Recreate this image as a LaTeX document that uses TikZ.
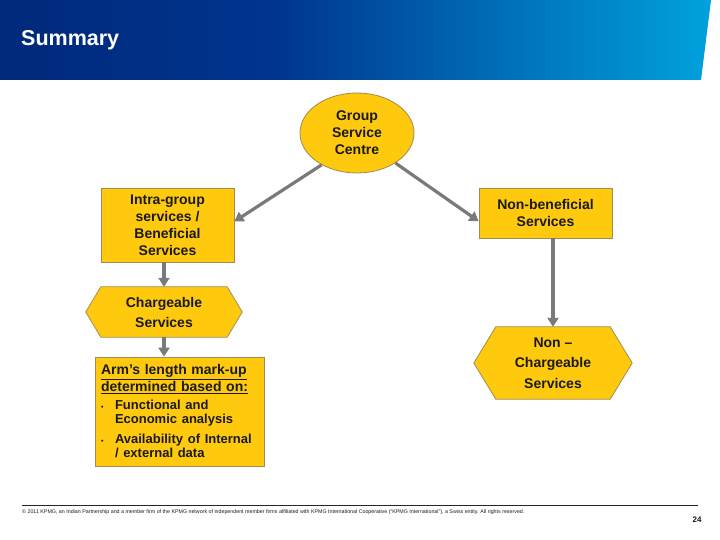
\documentclass[tikz,border=0pt]{standalone}
\usepackage{fontspec}
\setmainfont{Liberation Sans}
\usetikzlibrary{shapes.geometric,arrows.meta,calc}
\definecolor{kdark}{HTML}{00297A}
\definecolor{kmid}{HTML}{00348E}
\definecolor{klight}{HTML}{00A2DE}
\definecolor{gold}{HTML}{FFC90D}
\definecolor{goldedge}{HTML}{A08C50}
\definecolor{arrowgray}{HTML}{7A7A7A}
\definecolor{txt}{HTML}{1A1A1A}
\pgfdeclarehorizontalshading{hdr}{100bp}{color(0bp)=(kdark); color(25bp)=(kdark); color(44bp)=(kmid); color(75bp)=(klight); color(100bp)=(klight)}
\pgfdeclarelayer{background}
\pgfsetlayers{background,main}
\begin{document}
\begin{tikzpicture}[x=1pt,y=-1pt,
 box/.style={draw=goldedge, line width=0.8pt, fill=gold, text=txt, font=\fontsize{14}{17}\selectfont\bfseries, align=center, inner sep=0pt},
 hexnode/.style={text=txt, font=\fontsize{14}{20}\selectfont\bfseries, align=center, inner sep=0pt},
 hexfill/.style={draw=goldedge, fill=gold, line width=0.8pt},
 conn/.style={draw=arrowgray, line width=3.2pt, -{Triangle[length=9pt,width=11pt]}}]
\useasboundingbox (0,0) rectangle (720,540);
\begin{pgfonlayer}{background}
\fill[white] (0,0) rectangle (720,540);
\end{pgfonlayer}
\shade[shading=hdr] (0,0) -- (711,0) -- (701,80) -- (0,80) -- cycle;
\node[anchor=west, inner sep=0pt, text=white, font=\fontsize{21.5}{25}\selectfont\bfseries] (title) at (21,40) {Summary};

\node[box, ellipse, minimum width=114pt, minimum height=80pt] (gsc) at (357,133) {Group\\Service\\Centre};
\node[box, minimum width=133pt, minimum height=74pt] (intra) at (167.5,225) {Intra-group\\services /\\Beneficial\\Services};
\node[box, minimum width=133pt, minimum height=50pt] (nb) at (545.5,213) {Non-beneficial\\Services};

\node[hexnode, minimum width=156pt, minimum height=50pt] (chg) at (164,312) {Chargeable\\Services};
\begin{pgfonlayer}{background}
\draw[hexfill] (chg.west) -- ($(chg.north west)+(15,0)$) -- ($(chg.north east)+(-15,0)$) -- (chg.east) -- ($(chg.south east)+(-15,0)$) -- ($(chg.south west)+(15,0)$) -- cycle;
\end{pgfonlayer}

\node[hexnode, font=\fontsize{14}{20.5}\selectfont\bfseries, minimum width=158pt, minimum height=72pt] (nc) at (553,363) {Non --\\Chargeable\\Services};
\begin{pgfonlayer}{background}
\draw[hexfill] (nc.west) -- ($(nc.north west)+(22,0)$) -- ($(nc.north east)+(-22,0)$) -- (nc.east) -- ($(nc.south east)+(-22,0)$) -- ($(nc.south west)+(22,0)$) -- cycle;
\end{pgfonlayer}

\node[box, minimum width=169pt, minimum height=109pt, align=left, text width=157pt] (arm) at (179.5,411.5) {%
\raggedright
{\fontsize{14}{17}\selectfont \underline{Arm’s length mark-up}\\ \underline{determined based on:}\par}
\vspace{4pt}
{\fontsize{13}{14}\selectfont
\makebox[14pt][l]{\fontsize{7}{7}\selectfont\textbullet}Functional and\\
\hspace*{14pt}Economic analysis\par
\vspace{6pt}
\makebox[14pt][l]{\fontsize{7}{7}\selectfont\textbullet}Availability of Internal\\
\hspace*{14pt}/ external data\par}};

\draw[conn] (gsc.222) -- (intra.3);
\draw[conn] (gsc.-38) -- (nb.187);
\draw[conn] (chg.north |- intra.south) -- (chg.north);
\draw[conn] (chg.south) -- (chg.south |- arm.north);
\draw[conn] (nc.north |- nb.south) -- (nc.north);

\draw[line width=0.8pt, draw=black!85] (22,505) coordinate (fl) -- (698,505) coordinate (fr);
\node[anchor=west, inner sep=0pt, text=txt, font=\fontsize{5.3}{6}\selectfont] (copy) at (22,512) {© 2011 KPMG, an Indian Partnership and a member firm of the KPMG network of independent member firms affiliated with KPMG International Cooperative (“KPMG International”), a Swiss entity. All rights reserved.};
\node[inner sep=0pt, text=txt, font=\fontsize{8}{9}\selectfont\bfseries] (page) at (697,520) {24};
\end{tikzpicture}
\end{document}
